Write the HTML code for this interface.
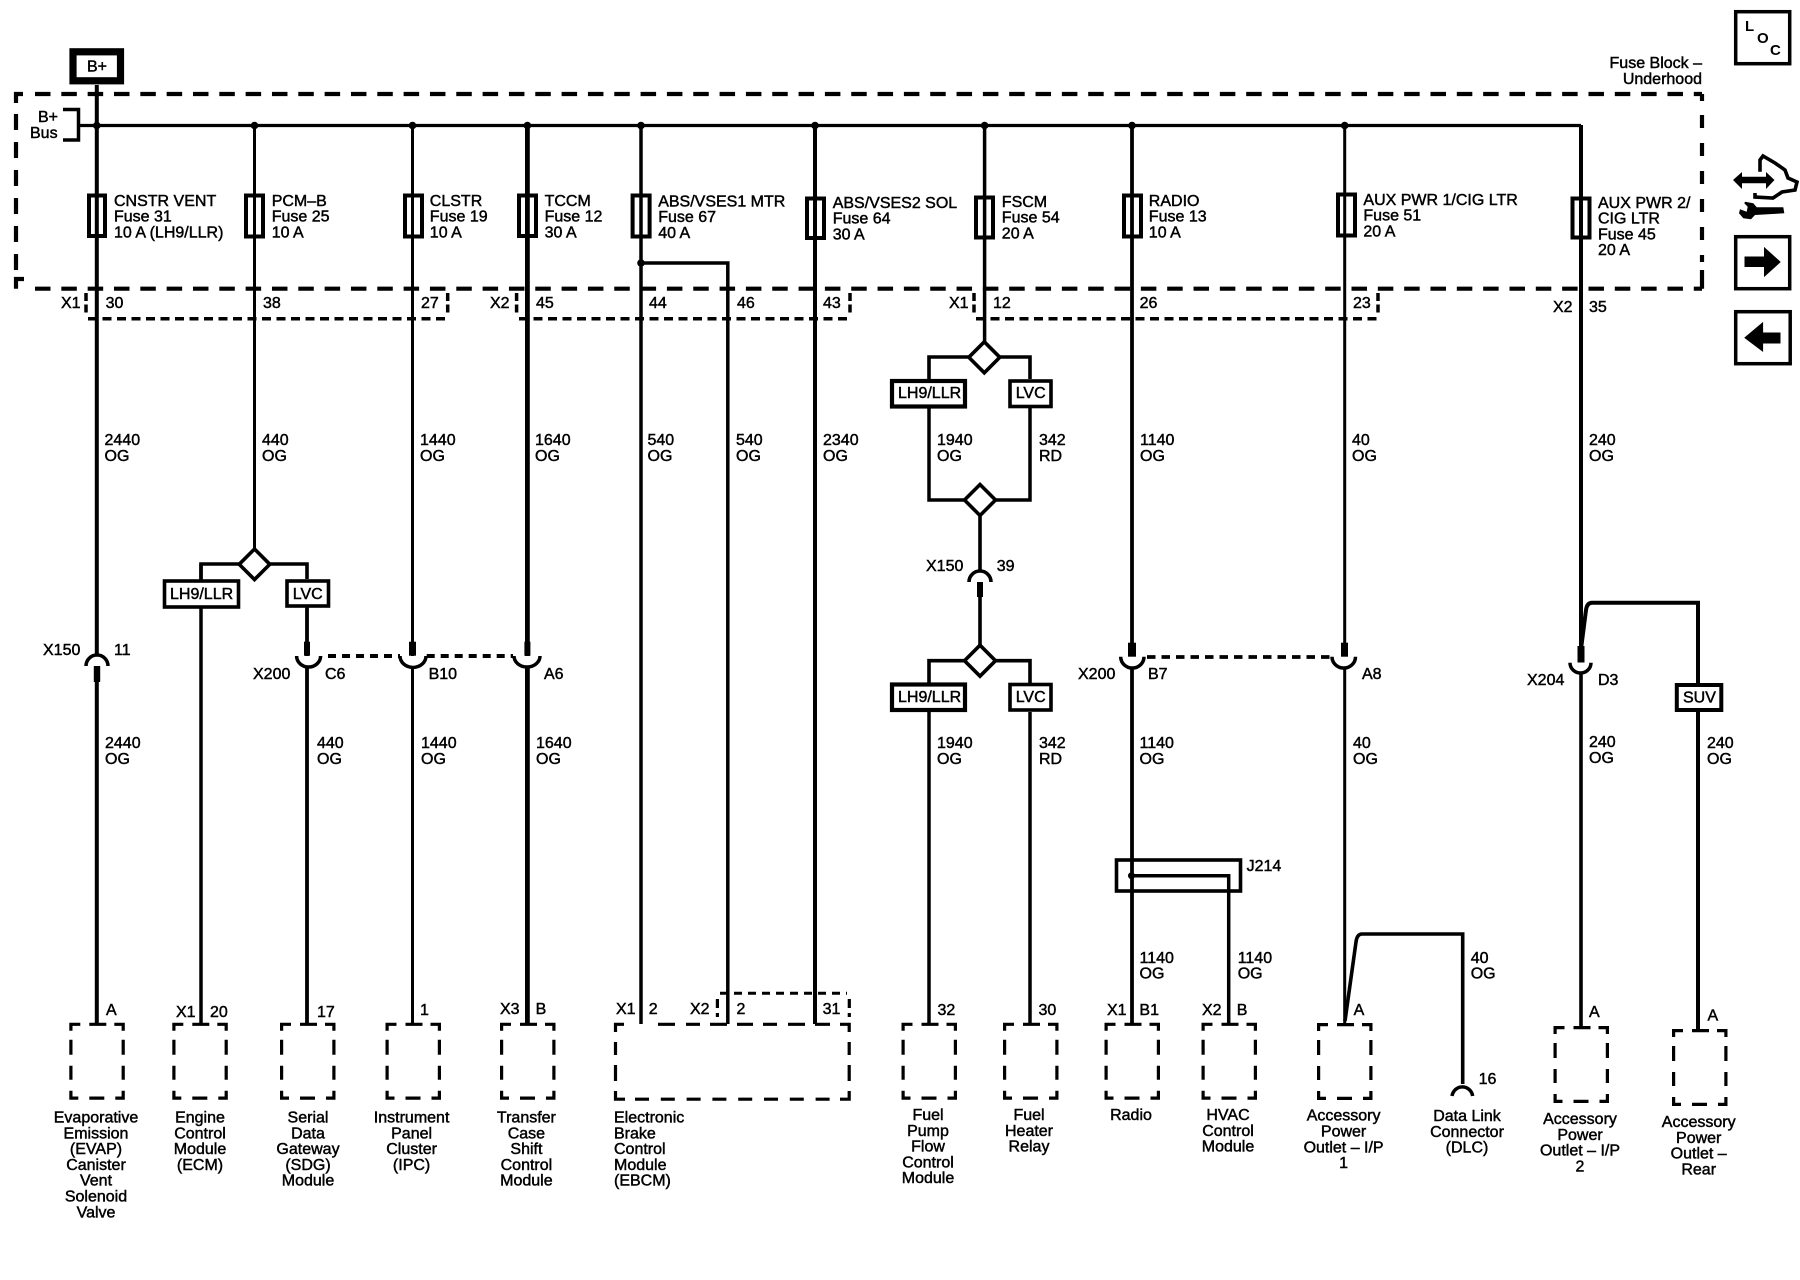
<!DOCTYPE html>
<html lang="en">
<head>
<meta charset="utf-8">
<title>Wiring diagram</title>
<style>
html,body{margin:0;padding:0;background:#fff}
svg{display:block}
text{font-family:"Liberation Sans",Arial,sans-serif;font-size:16px;fill:#000;stroke:#000;stroke-width:.45}
.m{text-anchor:middle}
.e{text-anchor:end}
.b{font-weight:bold;stroke-width:0}
path,line,rect{fill:none;stroke:#000}
rect.p{fill:#000;stroke:none}
</style>
</head>
<body>
<svg xmlns="http://www.w3.org/2000/svg" width="1800" height="1280" viewBox="0 0 1800 1280">
<defs>
<path id="cb" stroke-width="3.2" d="M1.6 8V1.6H11M45 1.6H53.9V8M20 1.6H37M1.6 17V32M1.6 43V57M53.9 17V32M53.9 43V57M1.6 68V75.4H9M46 75.4H53.9V68M20 75.4H35"/>
</defs>
<rect x="0" y="0" width="1800" height="1280" style="fill:#fff;stroke:none"/>

<!-- fuse block outline -->
<g stroke-width="4.2">
<path d="M35 94H1702" stroke-dasharray="15.5 10.83"/>
<path d="M35 288.7H1702" stroke-dasharray="15.5 10.83"/>
<path d="M16 103V94H23M16 288.7V279H24M1702 94V101M1702 288.7V270"/>
<path d="M16 114V270" stroke-dasharray="16 12"/>
<path d="M1702 115V262" stroke-dasharray="13 15"/>
</g>

<!-- connector dashes top -->
<g stroke-width="3.5">
<path d="M86 293V313M447.7 293V313M516.6 293V313M850 293V313M974 293V313M1378 293V313" stroke-dasharray="8 3.5"/>
<path d="M88 318.7H447" stroke-dasharray="9 5.5"/>
<path d="M519 318.7H849" stroke-dasharray="9 5.5"/>
<path d="M976 318.7H1378" stroke-dasharray="9 5.5"/>
</g>

<!-- B+ -->
<rect x="73" y="51.8" width="47.5" height="29" stroke-width="7.2"/>
<text x="87" y="71.7">B+</text>
<path d="M63 109.5H78.5V140H63" stroke-width="3.5"/>
<text x="38" y="122">B+</text>
<text x="30" y="138">Bus</text>

<!-- bus -->
<path d="M78 125.5H1581" stroke-width="3.2"/>
<g style="fill:#000">
<circle cx="96.8" cy="125.5" r="3.8"/><circle cx="254.5" cy="125.5" r="3.8"/><circle cx="412.5" cy="125.5" r="3.8"/><circle cx="527.4" cy="125.5" r="3.8"/><circle cx="641" cy="125.5" r="3.8"/><circle cx="815" cy="125.5" r="3.8"/><circle cx="984.6" cy="125.5" r="3.8"/><circle cx="1132" cy="125.5" r="3.8"/><circle cx="1344.7" cy="125.5" r="3.8"/><circle cx="641" cy="263" r="3.8"/><circle cx="1131.5" cy="875.7" r="3.5"/>
</g>

<!-- main wires -->
<path d="M96.8 85V656M96.8 682V1024" stroke-width="4"/>
<path d="M254.5 125V549" stroke-width="3"/>
<path d="M201 564V1024" stroke-width="3.5"/>
<path d="M307 607V656M307 666V1024" stroke-width="3.8"/>
<path d="M412.5 125V656M412.5 666V1024" stroke-width="3"/>
<path d="M527.4 125V656M527.4 666V1024" stroke-width="4.8"/>
<path d="M641 125V1024" stroke-width="3.5"/>
<path d="M641 263H727.8V1024" stroke-width="3.5"/>
<path d="M815 125V1024" stroke-width="4"/>
<path d="M984.6 125V342" stroke-width="3.5"/>
<path d="M1132 125V656M1132 667V1024" stroke-width="3.8"/>
<path d="M1344.7 125V656M1344.7 667V1024" stroke-width="3"/>
<path d="M1581 125V646" stroke-width="4"/>
<path d="M1581 673V1028" stroke-width="3.6"/>
<path d="M1581.4 646L1586 610Q1587 602.7 1592 602.7H1698V1031" stroke-width="4"/>
<path d="M1345 1021L1356 942Q1357 934 1362 934H1462.7V1084" stroke-width="3.6"/>
<path d="M1131.5 875.7H1228.7V1024" stroke-width="3.5"/>
<rect x="1116.5" y="860" width="124" height="31" stroke-width="3.6"/>

<!-- fuses -->
<g stroke-width="4">
<rect x="89" y="195.5" width="16" height="40.5"/>
<rect x="246" y="195.5" width="17" height="41"/>
<rect x="405" y="195.5" width="17" height="41"/>
<rect x="519" y="195.5" width="17" height="40.5"/>
<rect x="632.6" y="195.5" width="17" height="41"/>
<rect x="807" y="198.5" width="17" height="39.5"/>
<rect x="976" y="197.5" width="17" height="40"/>
<rect x="1124" y="195.5" width="17" height="41"/>
<rect x="1338" y="194.5" width="17" height="41"/>
<rect x="1572.5" y="198.5" width="17" height="39"/>
</g>

<!-- fuse labels -->
<text x="114" y="206">CNSTR VENT<tspan x="114" dy="15.7">Fuse 31</tspan><tspan x="114" dy="15.7">10 A (LH9/LLR)</tspan></text>
<text x="271.7" y="206">PCM–B<tspan x="271.7" dy="15.7">Fuse 25</tspan><tspan x="271.7" dy="15.7">10 A</tspan></text>
<text x="429.8" y="206">CLSTR<tspan x="429.8" dy="15.7">Fuse 19</tspan><tspan x="429.8" dy="15.7">10 A</tspan></text>
<text x="544.6" y="206">TCCM<tspan x="544.6" dy="15.7">Fuse 12</tspan><tspan x="544.6" dy="15.7">30 A</tspan></text>
<text x="658.2" y="206.5">ABS/VSES1 MTR<tspan x="658.2" dy="15.7">Fuse 67</tspan><tspan x="658.2" dy="15.7">40 A</tspan></text>
<text x="832.7" y="208">ABS/VSES2 SOL<tspan x="832.7" dy="15.7">Fuse 64</tspan><tspan x="832.7" dy="15.7">30 A</tspan></text>
<text x="1001.8" y="207">FSCM<tspan x="1001.8" dy="15.7">Fuse 54</tspan><tspan x="1001.8" dy="15.7">20 A</tspan></text>
<text x="1148.8" y="206">RADIO<tspan x="1148.8" dy="15.7">Fuse 13</tspan><tspan x="1148.8" dy="15.7">10 A</tspan></text>
<text x="1363.4" y="205">AUX PWR 1/CIG LTR<tspan x="1363.4" dy="15.7">Fuse 51</tspan><tspan x="1363.4" dy="15.7">20 A</tspan></text>
<text x="1598" y="208">AUX PWR 2/<tspan x="1598" dy="15.7">CIG LTR</tspan><tspan x="1598" dy="15.7">Fuse 45</tspan><tspan x="1598" dy="15.7">20 A</tspan></text>
<text class="e" x="1702" y="68">Fuse Block –</text>
<text class="e" x="1702" y="84">Underhood</text>

<!-- connector pin labels -->
<text x="61" y="308">X1</text><text x="105.6" y="308">30</text><text x="263" y="308">38</text><text x="421" y="308">27</text><text x="490" y="308">X2</text><text x="536" y="308">45</text><text x="649" y="308">44</text><text x="737" y="308">46</text><text x="823" y="308">43</text><text x="949" y="308">X1</text><text x="993" y="308">12</text><text x="1139.6" y="308">26</text><text x="1353" y="308">23</text><text x="1553" y="312">X2</text><text x="1589" y="312">35</text>

<!-- upper wire labels -->
<text x="104.5" y="445">2440<tspan x="104.5" dy="16">OG</tspan></text>
<text x="262" y="445">440<tspan x="262" dy="16">OG</tspan></text>
<text x="420" y="445">1440<tspan x="420" dy="16">OG</tspan></text>
<text x="535" y="445">1640<tspan x="535" dy="16">OG</tspan></text>
<text x="647.5" y="445">540<tspan x="647.5" dy="16">OG</tspan></text>
<text x="736" y="445">540<tspan x="736" dy="16">OG</tspan></text>
<text x="823" y="445">2340<tspan x="823" dy="16">OG</tspan></text>
<text x="937" y="445">1940<tspan x="937" dy="16">OG</tspan></text>
<text x="1039" y="445">342<tspan x="1039" dy="16">RD</tspan></text>
<text x="1140" y="445">1140<tspan x="1140" dy="16">OG</tspan></text>
<text x="1352" y="445">40<tspan x="1352" dy="16">OG</tspan></text>
<text x="1589" y="445">240<tspan x="1589" dy="16">OG</tspan></text>

<!-- left option group -->
<path d="M201 579V564H239M270 564H307V579" stroke-width="3.6"/>
<path d="M254.5 549L269.8 564.3L254.5 579.6L239.2 564.3Z" stroke-width="3.6" style="fill:#fff"/>
<rect x="164.5" y="581" width="74" height="26" stroke-width="3.6" style="fill:#fff"/>
<rect x="287" y="581" width="41.5" height="25" stroke-width="3.6" style="fill:#fff"/>
<text x="170" y="599">LH9/LLR</text>
<text x="292.8" y="599">LVC</text>

<!-- FSCM option group -->
<path d="M929 379V357H969M1000 357H1030V379" stroke-width="3.6"/>
<path d="M984.3 341.8L999.8 357.3L984.3 372.8L968.8 357.3Z" stroke-width="3.6" style="fill:#fff"/>
<rect x="892" y="381" width="73" height="25.5" stroke-width="4.2" style="fill:#fff"/>
<rect x="1010" y="381" width="41" height="25.5" stroke-width="3.6" style="fill:#fff"/>
<text x="898" y="398">LH9/LLR</text>
<text x="1015.7" y="398">LVC</text>
<path d="M929 408V500H965M995 500H1030V408" stroke-width="3.5"/>
<path d="M980 484.5L995.5 500L980 515.5L964.5 500Z" stroke-width="3.6" style="fill:#fff"/>
<path d="M980 516V570.7M980 597V645" stroke-width="3.6"/>
<path d="M969 582A11 11 0 0 1 991 582" stroke-width="3.6"/>
<rect class="p" x="977" y="582" width="6" height="15"/>
<text x="926" y="571">X150</text><text x="996.7" y="571">39</text>
<path d="M929 683V660.7H965M995 660.7H1030V683" stroke-width="3.6"/>
<path d="M980 645.2L995.5 660.7L980 676.2L964.5 660.7Z" stroke-width="3.6" style="fill:#fff"/>
<rect x="892" y="684.5" width="73" height="25.5" stroke-width="4.2" style="fill:#fff"/>
<rect x="1010" y="684.5" width="41" height="25.5" stroke-width="3.6" style="fill:#fff"/>
<text x="898" y="702">LH9/LLR</text>
<text x="1015.7" y="702">LVC</text>
<path d="M929 712V1024M1030 712V1024" stroke-width="3.5"/>

<!-- X150 / X200 / X204 -->
<path d="M86 666A11 11 0 0 1 108 666" stroke-width="3.5"/>
<rect class="p" x="93.8" y="666" width="6.4" height="16"/>
<text x="43" y="655">X150</text><text x="114" y="655">11</text>

<path d="M296.6 656A12 11 0 0 0 320.6 656M400 656A12.5 11 0 0 0 426 656M514 656A13 11 0 0 0 540 656M1120.7 656.7A11.6 11.3 0 0 0 1144 656.7M1332 656.7A11.7 11.3 0 0 0 1355.5 656.7M1570 662.7A10.5 10.3 0 0 0 1591 662.7" stroke-width="3.5"/>
<rect class="p" x="304" y="641.7" width="6" height="14"/>
<rect class="p" x="409" y="641.7" width="7" height="14"/>
<rect class="p" x="524.4" y="641.7" width="6" height="14"/>
<rect class="p" x="1128" y="642.7" width="8" height="14"/>
<rect class="p" x="1341" y="642.7" width="7" height="14"/>
<rect class="p" x="1577.5" y="646" width="7" height="16.5"/>
<path d="M328 656H400M426.7 656H513" stroke-width="4" stroke-dasharray="8 6"/>
<path d="M1147 657H1332" stroke-width="3.8" stroke-dasharray="8.5 6"/>
<text x="253" y="679">X200</text><text x="325" y="679">C6</text><text x="428.6" y="679">B10</text><text x="544" y="679">A6</text>
<text x="1078" y="679">X200</text><text x="1148" y="679">B7</text><text x="1362" y="679">A8</text>
<text x="1527" y="685">X204</text><text x="1598" y="685">D3</text>

<!-- SUV -->
<rect x="1676.8" y="685" width="44.5" height="25" stroke-width="4" style="fill:#fff"/>
<text x="1683" y="702.7">SUV</text>

<!-- lower wire labels -->
<text x="105" y="748">2440<tspan x="105" dy="16">OG</tspan></text>
<text x="317" y="748">440<tspan x="317" dy="16">OG</tspan></text>
<text x="421" y="748">1440<tspan x="421" dy="16">OG</tspan></text>
<text x="536" y="748">1640<tspan x="536" dy="16">OG</tspan></text>
<text x="937" y="748">1940<tspan x="937" dy="16">OG</tspan></text>
<text x="1039" y="748">342<tspan x="1039" dy="16">RD</tspan></text>
<text x="1139.5" y="748">1140<tspan x="1139.5" dy="16">OG</tspan></text>
<text x="1353" y="748">40<tspan x="1353" dy="16">OG</tspan></text>
<text x="1589" y="747">240<tspan x="1589" dy="16">OG</tspan></text>
<text x="1707" y="748">240<tspan x="1707" dy="16">OG</tspan></text>
<text x="1246.6" y="871">J214</text>
<text x="1139.5" y="963">1140<tspan x="1139.5" dy="15.5">OG</tspan></text>
<text x="1237.7" y="963">1140<tspan x="1237.7" dy="15.5">OG</tspan></text>
<text x="1470.7" y="963">40<tspan x="1470.7" dy="15.5">OG</tspan></text>

<!-- DLC -->
<path d="M1452 1096A10.5 11 0 0 1 1472.7 1096" stroke-width="3.5"/>
<text x="1478.6" y="1084">16</text>

<!-- component boxes -->
<use href="#cb" x="69.3" y="1022.7"/>
<use href="#cb" x="172.3" y="1022.7"/>
<use href="#cb" x="280" y="1022.7"/>
<use href="#cb" x="385.5" y="1022.7"/>
<use href="#cb" x="500" y="1022.7"/>
<use href="#cb" x="901.5" y="1022.7"/>
<use href="#cb" x="1003" y="1022.7"/>
<use href="#cb" x="1104.5" y="1022.7"/>
<use href="#cb" x="1201.5" y="1022.7"/>
<use href="#cb" x="1317" y="1023"/>
<use href="#cb" x="1553.5" y="1026"/>
<use href="#cb" x="1672" y="1029"/>
<g stroke-width="3.2">
<path d="M615.5 1032V1024.3H624M849.2 1032V1024.3H840M615.5 1042V1055M615.5 1065V1081M849.2 1042V1055M849.2 1065V1081M615.5 1091V1099.2H625M849.2 1091V1099.2H840"/>
<path d="M658 1024.3H675M686 1024.3H700M710 1024.3H727M737 1024.3H753M763 1024.3H777M788 1024.3H805M815 1024.3H830"/>
<path d="M635 1099.2H830" stroke-dasharray="14 11.8"/>
<path d="M717.4 999V1017M849.3 999V1017" stroke-dasharray="9 5"/>
<path d="M720 993.3H847" stroke-dasharray="8 6" stroke-width="3"/>
</g>

<!-- bottom pin labels -->
<text x="106" y="1015">A</text>
<text x="176" y="1017">X1</text><text x="210" y="1017">20</text>
<text x="317" y="1017">17</text>
<text x="420" y="1015">1</text>
<text x="500" y="1014">X3</text><text x="535.6" y="1014">B</text>
<text x="616" y="1014">X1</text><text x="648.7" y="1014">2</text>
<text x="690" y="1014">X2</text><text x="736.5" y="1014">2</text><text x="822.6" y="1014">31</text>
<text x="937.5" y="1015">32</text>
<text x="1038.5" y="1015">30</text>
<text x="1107" y="1015">X1</text><text x="1139.4" y="1015">B1</text>
<text x="1202" y="1015">X2</text><text x="1236.8" y="1015">B</text>
<text x="1353.6" y="1015">A</text>
<text x="1589" y="1017">A</text>
<text x="1707.5" y="1020.6">A</text>

<!-- component names -->
<text class="m" x="96" y="1122.5">Evaporative<tspan x="96" dy="15.8">Emission</tspan><tspan x="96" dy="15.8">(EVAP)</tspan><tspan x="96" dy="15.8">Canister</tspan><tspan x="96" dy="15.8">Vent</tspan><tspan x="96" dy="15.8">Solenoid</tspan><tspan x="96" dy="15.8">Valve</tspan></text>
<text class="m" x="200" y="1122.5">Engine<tspan x="200" dy="15.8">Control</tspan><tspan x="200" dy="15.8">Module</tspan><tspan x="200" dy="15.8">(ECM)</tspan></text>
<text class="m" x="308" y="1122.5">Serial<tspan x="308" dy="15.8">Data</tspan><tspan x="308" dy="15.8">Gateway</tspan><tspan x="308" dy="15.8">(SDG)</tspan><tspan x="308" dy="15.8">Module</tspan></text>
<text class="m" x="411.6" y="1122.5">Instrument<tspan x="411.6" dy="15.8">Panel</tspan><tspan x="411.6" dy="15.8">Cluster</tspan><tspan x="411.6" dy="15.8">(IPC)</tspan></text>
<text class="m" x="526.4" y="1122.5">Transfer<tspan x="526.4" dy="15.8">Case</tspan><tspan x="526.4" dy="15.8">Shift</tspan><tspan x="526.4" dy="15.8">Control</tspan><tspan x="526.4" dy="15.8">Module</tspan></text>
<text x="614" y="1122.5">Electronic<tspan x="614" dy="15.8">Brake</tspan><tspan x="614" dy="15.8">Control</tspan><tspan x="614" dy="15.8">Module</tspan><tspan x="614" dy="15.8">(EBCM)</tspan></text>
<text class="m" x="928" y="1120">Fuel<tspan x="928" dy="15.8">Pump</tspan><tspan x="928" dy="15.8">Flow</tspan><tspan x="928" dy="15.8">Control</tspan><tspan x="928" dy="15.8">Module</tspan></text>
<text class="m" x="1029" y="1120">Fuel<tspan x="1029" dy="15.8">Heater</tspan><tspan x="1029" dy="15.8">Relay</tspan></text>
<text class="m" x="1131" y="1120">Radio</text>
<text class="m" x="1228" y="1120">HVAC<tspan x="1228" dy="15.8">Control</tspan><tspan x="1228" dy="15.8">Module</tspan></text>
<text class="m" x="1343.6" y="1120.7">Accessory<tspan x="1343.6" dy="15.8">Power</tspan><tspan x="1343.6" dy="15.8">Outlet – I/P</tspan><tspan x="1343.6" dy="15.8">1</tspan></text>
<text class="m" x="1467" y="1121">Data Link<tspan x="1467" dy="15.8">Connector</tspan><tspan x="1467" dy="15.8">(DLC)</tspan></text>
<text class="m" x="1580" y="1124">Accessory<tspan x="1580" dy="15.8">Power</tspan><tspan x="1580" dy="15.8">Outlet – I/P</tspan><tspan x="1580" dy="15.8">2</tspan></text>
<text class="m" x="1698.7" y="1127">Accessory<tspan x="1698.7" dy="15.8">Power</tspan><tspan x="1698.7" dy="15.8">Outlet –</tspan><tspan x="1698.7" dy="15.8">Rear</tspan></text>

<!-- right icons -->
<rect x="1735.7" y="11.7" width="54" height="52" stroke-width="3.5"/>
<text class="b" x="1745" y="31" style="font-size:15px">L</text>
<text class="b" x="1757" y="43" style="font-size:15px">O</text>
<text class="b" x="1770" y="55" style="font-size:15px">C</text>

<rect x="1735.7" y="236.7" width="54" height="52" stroke-width="3.5"/>
<path d="M1745 257H1764.5V248L1780 262L1764.5 276V266.5H1745Z" style="fill:#000"/>
<rect x="1735.7" y="311.7" width="54.5" height="52" stroke-width="3.5"/>
<path d="M1780 333H1762.6V323L1745 337.7L1762.6 351V343H1780Z" style="fill:#000"/>

<path d="M1733 180L1742 172V176.7H1766V172L1774.5 180L1766 189V183.3H1742V189Z" style="fill:#000;stroke:none"/>
<path d="M1760 171.7V160L1763 156L1775 163L1785 170L1788 178L1797 182L1795 190L1782 192L1773 198L1755 197V193" stroke-width="3.6"/>
<path d="M1745 201.7L1753.3 203.3L1756.7 207.3H1783.3L1784.3 213.3L1755 215L1751 219.3L1743.3 218.3L1739 213.3L1740 209.3L1746.7 211.7L1747.7 206.7L1744.3 203.3Z" style="fill:#000;stroke:none"/>
</svg>
</body>
</html>
